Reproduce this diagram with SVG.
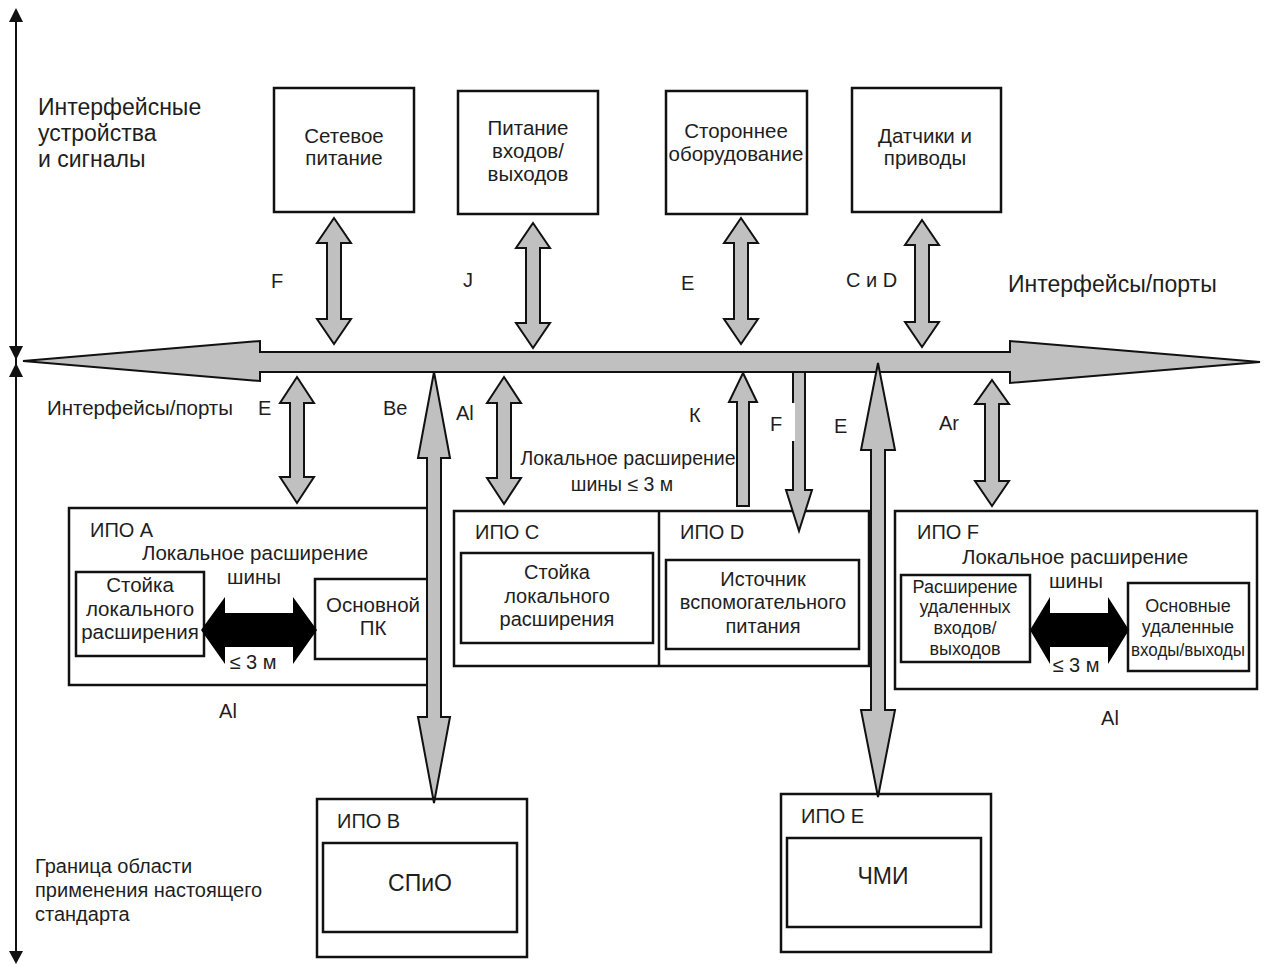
<svg xmlns="http://www.w3.org/2000/svg" width="1265" height="965" viewBox="0 0 1265 965">
<style>
text{font-family:"Liberation Sans",Arial,sans-serif;fill:#1e1e1e}
.box{fill:#fff;stroke:#111;stroke-width:2.5}
.ga{fill:#c0c0c0;stroke:#111;stroke-width:2;stroke-linejoin:miter}
.ba{fill:#000}
.axis{stroke:#111;stroke-width:2;fill:none}
.ah{fill:#111}
.m{text-anchor:middle}
.s18{font-size:18px}.s195{font-size:19.5px}.s20{font-size:20px}.s205{font-size:20.5px}.s23{font-size:23px}
</style>
<rect width="1265" height="965" fill="#fff"/>

<g id="scope-axis">
<line class="axis" x1="16" y1="20" x2="16" y2="952"/>
<polygon class="ah" points="16,8 23,22 9,22"/>
<polygon class="ah" points="16,360 23,346 9,346"/>
<polygon class="ah" points="16,363 23,377 9,377"/>
<polygon class="ah" points="16,964 23,951 9,951"/>
<text class="s23" x="38" y="115">Интерфейсные</text>
<text class="s23" x="38" y="141">устройства</text>
<text class="s23" x="38" y="167">и сигналы</text>
<text class="s20" x="35" y="873">Граница области</text>
<text class="s20" x="35" y="897">применения настоящего</text>
<text class="s20" x="35" y="921">стандарта</text>
</g>

<g id="node-mains">
<rect class="box" x="274" y="88" width="140" height="124"/>
<text class="s205 m" x="344" y="143">Сетевое</text>
<text class="s205 m" x="344" y="165">питание</text>
</g>
<g id="node-io-power">
<rect class="box" x="458" y="91" width="140" height="123"/>
<text class="s205 m" x="528" y="135">Питание</text>
<text class="s205 m" x="528" y="158">входов/</text>
<text class="s205 m" x="528" y="181">выходов</text>
</g>
<g id="node-third-party">
<rect class="box" x="666" y="91" width="141" height="123"/>
<text class="s205 m" x="736" y="138">Стороннее</text>
<text class="s205 m" x="736" y="161">оборудование</text>
</g>
<g id="node-sensors">
<rect class="box" x="852" y="88" width="149" height="124"/>
<text class="s205 m" x="925" y="143">Датчики и</text>
<text class="s205 m" x="925" y="165">приводы</text>
</g>

<g id="node-ipo-a">
<rect class="box" x="69" y="508" width="365" height="177"/>
<text class="s20" x="90" y="537">ИПО A</text>
<text class="s205 m" x="255" y="560">Локальное расширение</text>
<text class="s205 m" x="254" y="584">шины</text>
<rect class="box" x="76" y="572" width="128" height="84"/>
<text class="s205 m" x="140" y="592">Стойка</text>
<text class="s205 m" x="140" y="616">локального</text>
<text class="s205 m" x="140" y="639">расширения</text>
<rect class="box" x="315" y="579" width="118" height="80"/>
<text class="s205 m" x="373" y="612">Основной</text>
<text class="s205 m" x="373" y="635">ПК</text>
<polygon class="ba" points="201,630 225,597 225,613 293,613 293,597 317,630 293,664 293,647 225,647 225,664"/>
<text class="s20 m" x="253" y="669">≤ 3 м</text>
</g>

<g id="node-ipo-cd">
<rect class="box" x="454" y="511" width="415" height="155"/>
<line class="box" x1="659" y1="511" x2="659" y2="666"/>
<text class="s20" x="475" y="539">ИПО C</text>
<text class="s20" x="680" y="539">ИПО D</text>
<rect class="box" x="461" y="553" width="192" height="90"/>
<text class="s20 m" x="557" y="579">Стойка</text>
<text class="s20 m" x="557" y="603">локального</text>
<text class="s20 m" x="557" y="626">расширения</text>
<rect class="box" x="666" y="560" width="193" height="89"/>
<text class="s20 m" x="763" y="586">Источник</text>
<text class="s20 m" x="763" y="609">вспомогательного</text>
<text class="s20 m" x="763" y="633">питания</text>
</g>

<g id="node-ipo-f">
<rect class="box" x="895" y="511" width="362" height="178"/>
<text class="s20" x="917" y="539">ИПО F</text>
<text class="s205 m" x="1075" y="564">Локальное расширение</text>
<text class="s205 m" x="1076" y="588">шины</text>
<rect class="box" x="901" y="575" width="129" height="87"/>
<text class="s18 m" x="965" y="593">Расширение</text>
<text class="s18 m" x="965" y="613">удаленных</text>
<text class="s18 m" x="965" y="634">входов/</text>
<text class="s18 m" x="965" y="655">выходов</text>
<rect class="box" x="1128" y="583" width="121" height="88"/>
<text class="s18 m" x="1188" y="612">Основные</text>
<text class="s18 m" x="1188" y="633">удаленные</text>
<text class="s18 m" x="1188" y="656" textLength="114" lengthAdjust="spacingAndGlyphs">входы/выходы</text>
<polygon class="ba" points="1030,630 1050,597 1050,613 1108,613 1108,597 1129,630 1108,664 1108,647 1050,647 1050,664"/>
<text class="s20 m" x="1076" y="672">≤ 3 м</text>
</g>

<g id="node-ipo-b">
<rect class="box" x="317" y="799" width="210" height="158"/>
<text class="s20" x="337" y="828">ИПО B</text>
<rect class="box" x="323" y="843" width="194" height="89"/>
<text class="s23 m" x="420" y="891">СПиО</text>
</g>

<g id="node-ipo-e">
<rect class="box" x="781" y="794" width="210" height="158"/>
<text class="s20" x="801" y="823">ИПО E</text>
<rect class="box" x="787" y="838" width="194" height="89"/>
<text class="s23 m" x="883" y="884">ЧМИ</text>
</g>

<g id="connectors">
<polygon class="ga" points="23,361 260,341 260,352 1010,352 1010,341 1260,362 1010,383 1010,372 260,372 260,381"/>
<polygon class="ga" points="334,218 351,243 341,243 341,319 351,319 334,344 317,319 327,319 327,243 317,243"/>
<polygon class="ga" points="533,223 550,248 540,248 540,323 550,323 533,348 516,323 526,323 526,248 516,248"/>
<polygon class="ga" points="741,218 758,243 748,243 748,319 758,319 741,344 724,319 734,319 734,243 724,243"/>
<polygon class="ga" points="922,220 939,245 929,245 929,322 939,322 922,347 905,322 915,322 915,245 905,245"/>
<polygon class="ga" points="297,377 314,403 304,403 304,477 314,477 297,503 280,477 290,477 290,403 280,403"/>
<polygon class="ga" points="504,377 521,403 511,403 511,478 521,478 504,504 487,478 497,478 497,403 487,403"/>
<polygon class="ga" points="992,380 1009,404 999,404 999,481 1009,481 992,506 975,481 985,481 985,404 975,404"/>
<polygon class="ga" points="434,372 450,458 441,458 441,717 450,717 434,803 418,717 427,717 427,458 418,458"/>
<polygon class="ga" points="878,363 895,450 885,450 885,710 895,710 878,797 861,710 871,710 871,450 861,450"/>
<polygon class="ga" points="743,373 757,402 749,402 749,506 737,506 737,402 729,402"/>
<polygon class="ga" points="793,372 805,372 805,490 812,490 799,531 786,490 793,490"/>
<rect x="791" y="403" width="4" height="38" fill="#fff"/>
<text class="s20" x="271" y="288">F</text>
<text class="s20" x="463" y="287">J</text>
<text class="s20" x="681" y="290">E</text>
<text class="s20" x="846" y="287">C и D</text>
<text class="s23" x="1008" y="292">Интерфейсы/порты</text>
<text class="s205" x="47" y="415">Интерфейсы/порты</text>
<text class="s20" x="258" y="415">E</text>
<text class="s20" x="383" y="415">Be</text>
<text class="s20" x="456" y="420">Al</text>
<text class="s195 m" x="628" y="465">Локальное расширение</text>
<text class="s195 m" x="622" y="491">шины ≤ 3 м</text>
<text class="s20" x="689" y="422">К</text>
<text class="s20" x="770" y="431">F</text>
<text class="s20" x="834" y="433">E</text>
<text class="s20" x="939" y="430">Ar</text>
<text class="s20 m" x="228" y="718">Al</text>
<text class="s20 m" x="1110" y="725">Al</text>
</g>
</svg>
